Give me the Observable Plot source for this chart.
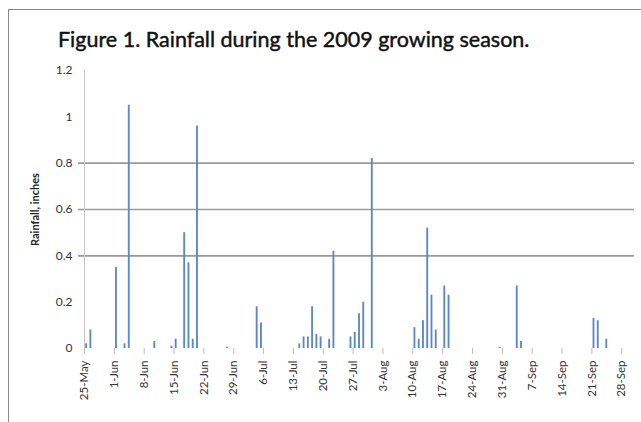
<!DOCTYPE html>
<html>
<head>
<meta charset="utf-8">
<script src="https://cdn.jsdelivr.net/npm/d3@7"></script>
<script src="https://cdn.jsdelivr.net/npm/@observablehq/plot@0.6"></script>
<style>
  html, body { margin: 0; padding: 0; background: #fff; overflow: hidden; }
  #wrap { position: relative; width: 641px; height: 422px; overflow: hidden; font-family: Lato, "Open Sans", sans-serif; }
  #frame { position: absolute; left: 8px; top: 9px; width: 800px; height: 600px; border-left: 1.5px solid #8a8a8a; border-top: 1.5px solid #8a8a8a; }
  #title { position: relative; height: 58px; box-sizing: border-box; padding: 29px 0 0 58px; font-size: 21.5px; font-weight: 400; -webkit-text-stroke: 0.45px #111; color: #111; line-height: 21px; white-space: nowrap; }
  #chart { position: relative; }
</style>
</head>
<body>
<div id="wrap">
  <div id="frame"></div>
  <div id="title">Figure 1. Rainfall during the 2009 growing season.</div>
  <div id="chart"></div>
</div>
<script>
const rainDates = [
  "2009-05-25","2009-05-26","2009-06-01","2009-06-03","2009-06-04","2009-06-10",
  "2009-06-14","2009-06-15","2009-06-17","2009-06-18","2009-06-19","2009-06-20",
  "2009-06-27","2009-07-04","2009-07-05","2009-07-14","2009-07-15","2009-07-16",
  "2009-07-17","2009-07-18","2009-07-19","2009-07-21","2009-07-22","2009-07-26",
  "2009-07-27","2009-07-28","2009-07-29","2009-07-31","2009-08-10","2009-08-11",
  "2009-08-12","2009-08-13","2009-08-14","2009-08-15","2009-08-17","2009-08-18",
  "2009-08-30","2009-09-03","2009-09-04","2009-09-21","2009-09-22","2009-09-24"
];
const rainInches = [
  0.02, 0.08, 0.35, 0.02, 1.05, 0.03,
  0.01, 0.04, 0.50, 0.37, 0.04, 0.96,
  0.005, 0.18, 0.11, 0.02, 0.05, 0.05,
  0.18, 0.06, 0.05, 0.04, 0.42, 0.05,
  0.07, 0.15, 0.20, 0.82, 0.09, 0.04,
  0.12, 0.52, 0.23, 0.08, 0.27, 0.23,
  0.005, 0.27, 0.03, 0.13, 0.12, 0.04
];
const yTicks = [0, 0.2, 0.4, 0.6, 0.8, 1, 1.2];
const gridValues = [0.4, 0.6, 0.8];
const axisStart = "2009-05-25";
const axisEnd = "2009-10-01";
const lastTick = "2009-09-28";

const parse = d3.utcParse("%Y-%m-%d");
const data = rainDates.map((d, i) => ({date: parse(d), value: rainInches[i]}));
const xTicks = d3.utcDay.range(parse(axisStart), d3.utcDay.offset(parse(lastTick), 1), 7);

const chart = Plot.plot({
  width: 641,
  height: 364,
  marginLeft: 84,
  marginRight: 7,
  marginTop: 12,
  marginBottom: 74,
  style: {fontFamily: "Lato, 'Open Sans', sans-serif", background: "transparent", overflow: "visible"},
  x: {type: "utc", domain: [parse(axisStart), parse(axisEnd)]},
  y: {domain: [0, 1.2]},
  marks: [
    Plot.ruleY(gridValues, {stroke: "#9a9a9a", strokeWidth: 1.6, insetLeft: -6}),
    Plot.ruleX([parse(axisStart)], {stroke: "#c8c8c8", strokeWidth: 1}),
    Plot.rectY(data, {
      x1: "date",
      x2: d => d3.utcDay.offset(d.date, 1),
      y: "value",
      fill: "#5a88c9",
      insetLeft: 1.2,
      insetRight: 1.2
    }),
    Plot.axisY({
      ticks: yTicks,
      tickSize: 0,
      tickPadding: 12,
      tickFormat: d => String(+d.toFixed(1)),
      fontSize: 12,
      fill: "#333",
      label: null
    }),
    Plot.axisX({
      ticks: xTicks,
      tickFormat: d3.utcFormat("%-d-%b"),
      tickRotate: -90,
      tickSize: 6,
      tickPadding: 6,
      stroke: "#bbbbbb",
      fill: "#333",
      fontSize: 11.5,
      label: null
    }),
    Plot.text(["Rainfall, inches"], {
      text: d => d,
      frameAnchor: "left",
      textAnchor: "middle",
      dx: -49,
      rotate: -90,
      fontSize: 11,
      fontWeight: "bold",
      fill: "#222"
    })
  ]
});
document.getElementById("chart").appendChild(chart);
</script>
</body>
</html>
